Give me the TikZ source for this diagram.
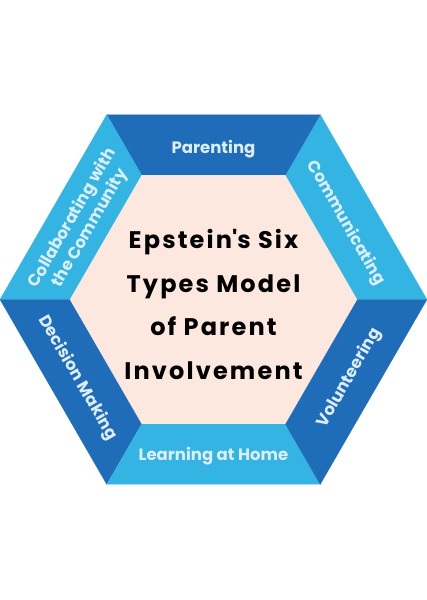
\documentclass[tikz,border=0pt]{standalone}
\usepackage{fontspec}
\setmainfont{Poppins}
\usetikzlibrary{positioning}
\definecolor{darkblue}{HTML}{1F6CB9}
\definecolor{lightblue}{HTML}{33B4E3}
\definecolor{peach}{HTML}{FDE8DF}
\definecolor{sidefont}{HTML}{DCEEFA}

\begin{document}
\begin{tikzpicture}[x=1pt,y=1pt,
  sidetext/.style={text=sidefont,align=center,text depth=0pt,
    font=\fontsize{16.5}{20}\selectfont\bfseries},
  centertext/.style={align=center,
    font=\fontsize{24}{43.7}\selectfont\bfseries\addfontfeature{LetterSpace=9}}]
  \useasboundingbox (-213.5,-300.5) rectangle (212.5,299.5);
  \foreach \i in {0,...,5} {
    \coordinate (O\i) at (\i*60:213.5);
    \coordinate (I\i) at (\i*60:144);
  }
  % inner hexagon
  \fill[peach] (I0) -- (I1) -- (I2) -- (I3) -- (I4) -- (I5) -- cycle;
  % outer ring, one trapezoid per type
  \foreach \a/\b/\c in {0/1/lightblue,1/2/darkblue,2/3/lightblue,3/4/darkblue,4/5/lightblue,5/0/darkblue}
    \filldraw[\c,line width=0.2pt] (O\a) -- (O\b) -- (I\b) -- (I\a) -- cycle;

  \node[sidetext]           (parenting)   at (90:153)  {Parenting};
  \node[sidetext,rotate=-60] (communicate) at (30:154.8)  {Communicating};
  \node[sidetext,rotate=60]  (volunteer)   at (330:154.8) {Volunteering};
  \node[sidetext]           (learning)    at (270:154.8) {Learning at Home};
  \node[sidetext,rotate=-60] (decision)    at (210:154.8) {Decision Making};
  \node[sidetext,rotate=60]  (community)   at (150:154.8) {Collaborating with\\the Community};

  \node[centertext] (model) at (0,-5) {Epstein\textquotesingle s Six\\Types Model\\of Parent\\Involvement};
\end{tikzpicture}
\end{document}
